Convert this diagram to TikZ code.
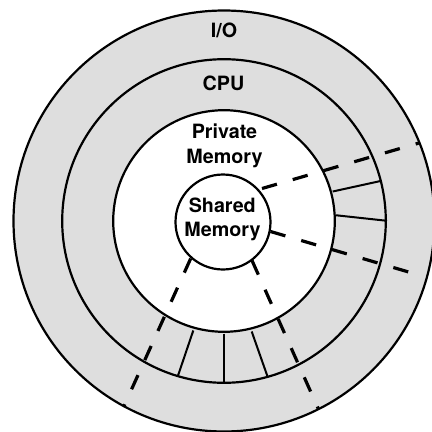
\documentclass[tikz,border=0pt]{standalone}
\usepackage{fontspec}
\setmainfont{TeX Gyre Heros}
\definecolor{ringgray}{RGB}{222,222,222}
\begin{document}
\begin{tikzpicture}[x=1pt,y=-1pt,
  ring/.style={draw=black,line width=2.2pt},
  divider/.style={draw=black,line width=2pt},
  link/.style={draw=black,line width=3.2pt,dash pattern=on 15.5pt off 16.5pt},
  label/.style={font=\fontsize{19.7}{23.5}\selectfont\bfseries,anchor=base,inner sep=0pt}]
\useasboundingbox (0,0) rectangle (432,432);
\fill[white] (0,0) rectangle (432,432);
% rings
\coordinate (c) at (224,221);
\filldraw[ring,fill=ringgray] (c) circle[radius=210.5];
\filldraw[ring,fill=ringgray] (c) circle[radius=161.8];
\filldraw[ring,fill=white] (c) circle[radius=110.8];
\filldraw[ring,fill=white] (223,222) circle[radius=47.5];
% dividers in CPU ring
\coordinate (r1a) at (332.7,191.5); \coordinate (r1b) at (381.5,180.8);
\coordinate (r2a) at (335.5,215.2); \coordinate (r2b) at (387,220.8);
\coordinate (b1a) at (193.3,330.5); \coordinate (b1b) at (177.7,376.5);
\coordinate (b2a) at (224,333.5);   \coordinate (b2b) at (224,383);
\coordinate (b3a) at (251.7,331.5); \coordinate (b3b) at (267.7,377);
\draw[divider] (r1a) -- (r1b);
\draw[divider] (r2a) -- (r2b);
\draw[divider] (b1a) -- (b1b);
\draw[divider] (b2a) -- (b2b);
\draw[divider] (b3a) -- (b3b);
% dashed links
\coordinate (d1a) at (262,188.5); \coordinate (d1b) at (419,143);
\coordinate (d2a) at (270.5,231.5); \coordinate (d2b) at (424,276.5);
\coordinate (d3a) at (190.7,258.5); \coordinate (d3b) at (123.8,406.5);
\coordinate (d4a) at (252,260.5); \coordinate (d4b) at (318.2,408.5);
\draw[link] (d1a) -- (d1b);
\draw[link] (d2a) -- (d2b);
\draw[link] (d3a) -- (d3b);
\draw[link] (d4a) -- (d4b);
% labels
\node[label] (io) at (224,37.3) {I/O};
\node[label] (cpu) at (223.5,90) {CPU};
\node[label] (priv1) at (224.5,138.8) {Private};
\node[label] (priv2) at (224.5,163.8) {Memory};
\node[label] (sh1) at (222.3,212.5) {Shared};
\node[label] (sh2) at (222.5,236.8) {Memory};
\end{tikzpicture}
\end{document}
